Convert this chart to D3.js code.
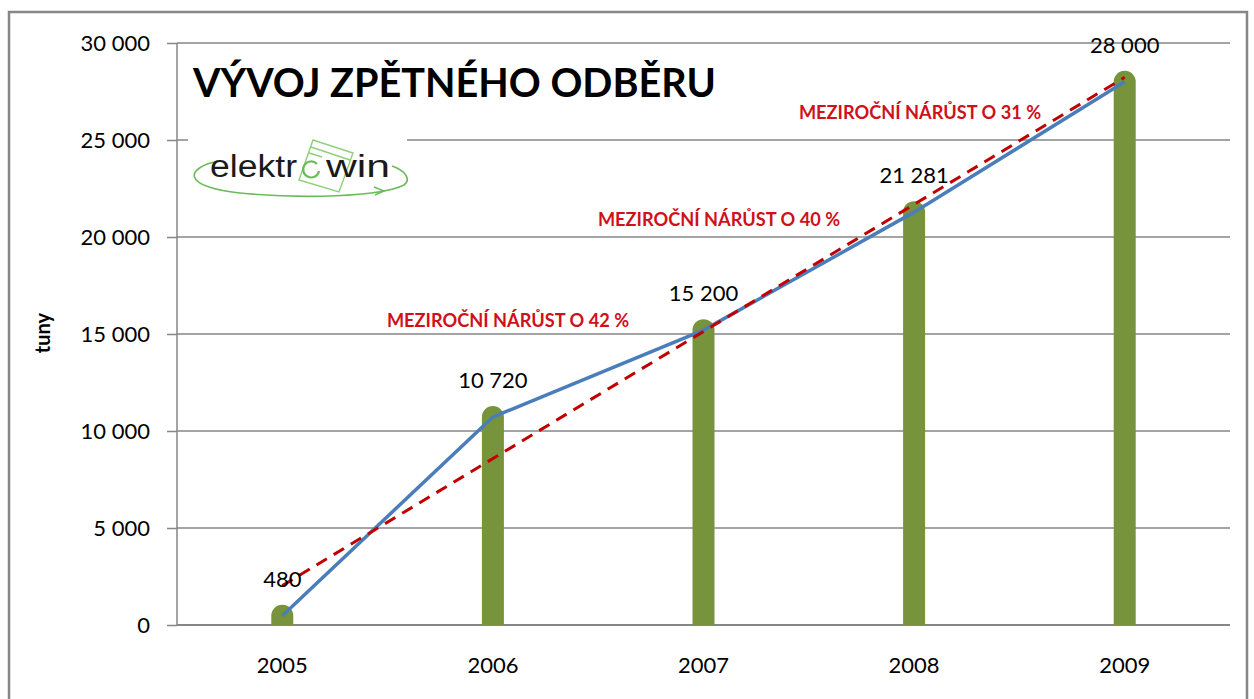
<!DOCTYPE html>
<html><head><meta charset="utf-8">
<script src="https://cdn.jsdelivr.net/npm/d3@7"></script>
<style>
html,body{margin:0;padding:0;background:#fff;}
svg{display:block;font-family:Lato,"Open Sans",sans-serif;}
</style></head>
<body>
<svg id="chart" width="1254" height="699"></svg>
<script>
const years = ["2005","2006","2007","2008","2009"];
const values = [480, 10720, 15200, 21281, 28000];
const valueLabels = ["480","10 720","15 200","21 281","28 000"];
const trendEnds = [2030, 28230];           // dashed trend line at 2005 and 2009
const yTicks = [0, 5000, 10000, 15000, 20000, 25000, 30000];
const growthNotes = ["MEZIROČNÍ NÁRŮST O 42 %", "MEZIROČNÍ NÁRŮST O 40 %", "MEZIROČNÍ NÁRŮST O 31 %"];
const title = "VÝVOJ ZPĚTNÉHO ODBĚRU";
const yTitle = "tuny";

(function(){
const svg = d3.select("#chart");
const pL = 177, pR = 1230, pT = 43, pB = 625;
const x = d3.scaleBand().domain(years).range([pL, pR]).padding(0);
const y = d3.scaleLinear().domain([0, 30000]).range([pB, pT]);
const cx = d => x(d) + x.bandwidth() / 2;
const loc = d3.formatLocale({decimal: ",", thousands: " ", grouping: [3], currency: ["", ""]});
const fmt = loc.format(",d");

// outer border
svg.append("rect").attr("x", 9).attr("y", 12).attr("width", 1238).attr("height", 700)
  .attr("fill", "none").attr("stroke", "#868686").attr("stroke-width", 2.5);

// gridlines
svg.append("g").selectAll("line").data(yTicks.filter(t => t > 0)).join("line")
  .attr("x1", pL).attr("x2", pR).attr("y1", d => y(d)).attr("y2", d => y(d))
  .attr("stroke", "#868686").attr("stroke-width", 1.5);

// y axis
const yAxis = svg.append("g").attr("transform", `translate(${pL},0)`)
  .call(d3.axisLeft(y).tickValues(yTicks).tickFormat(fmt).tickSize(10).tickPadding(17));
yAxis.selectAll("line").attr("stroke", "#868686").attr("stroke-width", 1.5);
yAxis.select(".domain").attr("stroke", "#868686").attr("stroke-width", 1.5).attr("d", `M0,${pT}V${pB}`);
yAxis.selectAll("text").attr("font-family", "Lato").attr("font-size", 22).attr("fill", "#000");

// x axis
svg.append("line").attr("x1", pL).attr("x2", pR).attr("y1", pB).attr("y2", pB)
  .attr("stroke", "#868686").attr("stroke-width", 2);
svg.append("g").selectAll("text").data(years).join("text")
  .attr("x", d => cx(d)).attr("y", 673).attr("text-anchor", "middle")
  .attr("font-size", 22).attr("fill", "#000").text(d => d);

// y title
svg.append("text").attr("transform", "translate(50,333) rotate(-90)")
  .attr("text-anchor", "middle").attr("font-weight", "bold").attr("font-size", 20).text(yTitle);

// logo
const logo = svg.append("g");
logo.append("rect").attr("x", 188).attr("y", 130).attr("width", 219).attr("height", 68).attr("fill", "#fff");
logo.append("path").attr("d", "M 218 161 C 186 168, 180 186, 240 193 C 300 199, 380 197, 404 185 C 412 179, 404 170, 392 166")
  .attr("fill", "none").attr("stroke", "#6cbb5a").attr("stroke-width", 1.6);
logo.append("path").attr("d", "M 374 187 L 384 191 L 375 195").attr("fill", "none").attr("stroke", "#6cbb5a").attr("stroke-width", 1.4);
// tilted box (washing machine)
logo.append("path").attr("d", "M 313 140 L 353 153 L 339 192 L 299 180 Z M 311 147 L 350 160 M 309 153 L 322 157")
  .attr("fill", "none").attr("stroke", "#8fd07a").attr("stroke-width", 1.4);
// green "o" arc
logo.append("path").attr("d", "M 317 164 A 8 8 0 1 0 319 171")
  .attr("fill", "none").attr("stroke", "#6cbb5a").attr("stroke-width", 2.2);
logo.append("text").attr("x", 210).attr("y", 177).attr("font-family", "Liberation Sans")
  .attr("font-size", 31).attr("fill", "#1a1a1a").attr("textLength", 87).attr("lengthAdjust", "spacingAndGlyphs")
  .text("elektr");
logo.append("text").attr("x", 326).attr("y", 177).attr("font-family", "Liberation Sans")
  .attr("font-size", 31).attr("fill", "#1a1a1a").attr("textLength", 64).attr("lengthAdjust", "spacingAndGlyphs")
  .text("win");

// title
svg.append("text").attr("x", 193).attr("y", 97).attr("font-weight", "bold")
  .attr("font-size", 39.6).attr("fill", "#000").text(title);

// bars with round tops
const r = 11;
svg.append("g").selectAll("path").data(values).join("path")
  .attr("d", (v, i) => {
    const c = cx(years[i]), yv = y(v), y0 = y(0);
    return `M${c - r},${y0}L${c - r},${yv}A${r},${r} 0 0 1 ${c + r},${yv}L${c + r},${y0}Z`;
  })
  .attr("fill", "#77933c");

// blue line
svg.append("path").datum(values)
  .attr("d", d3.line().x((v, i) => cx(years[i])).y(v => y(v)))
  .attr("fill", "none").attr("stroke", "#4a7ebb").attr("stroke-width", 3.5);

// trend line
svg.append("line")
  .attr("x1", cx(years[0])).attr("y1", y(trendEnds[0]))
  .attr("x2", cx(years[4])).attr("y2", y(trendEnds[1]))
  .attr("stroke", "#c00000").attr("stroke-width", 3).attr("stroke-dasharray", "12,8");

// value labels
svg.append("g").selectAll("text").data(values).join("text")
  .attr("x", (v, i) => cx(years[i])).attr("y", v => y(v) - 29)
  .attr("text-anchor", "middle").attr("font-size", 22).attr("fill", "#000")
  .text((v, i) => valueLabels[i]);

// growth notes
const notePos = [[508, 327], [719, 226], [920, 119]];
svg.append("g").selectAll("text").data(growthNotes).join("text")
  .attr("x", (d, i) => notePos[i][0]).attr("y", (d, i) => notePos[i][1])
  .attr("text-anchor", "middle").attr("font-weight", "bold").attr("font-size", 18.2)
  .attr("fill", "#d0101a").text(d => d);
})();
</script>
</body></html>
